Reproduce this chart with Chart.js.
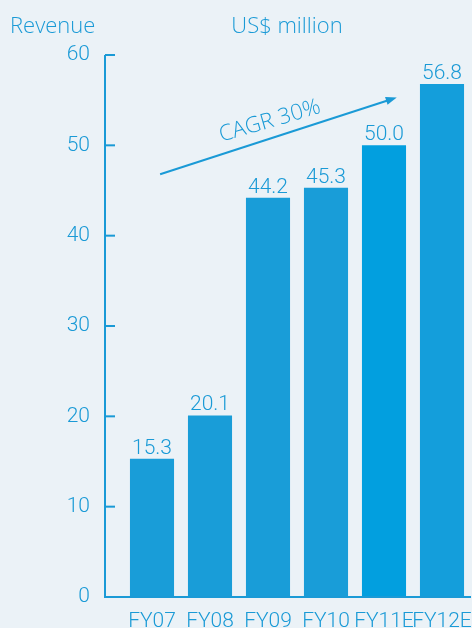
<!DOCTYPE html>
<html>
<head>
<meta charset="utf-8">
<script src="https://cdn.jsdelivr.net/npm/chart.js@4.4.1/dist/chart.umd.min.js"></script>
<style>
  html, body { margin: 0; padding: 0; background: #ebf2f7; }
  #wrap { width: 472px; height: 628px; }
</style>
</head>
<body>
<div id="wrap"><canvas id="revenue" width="472" height="628"></canvas></div>
<script>
const categories = ['FY07', 'FY08', 'FY09', 'FY10', 'FY11E', 'FY12E']
const revenue = [15.3, 20.1, 44.2, 45.3, 50.0, 56.8]
const yTicks = [0, 10, 20, 30, 40, 50, 60]
const barColors = ['#199dd8', '#199dd8', '#199dd8', '#199dd8', '#029fdf', '#149edb']
const cagrText = 'CAGR 30%'
// arrow start / end in data units (category index, revenue)
const cagrFrom = [0.14, 46.8]
const cagrTo = [4.22, 55.3]

const blue = '#1a9ad6'
const textFont = '"Open Sans", sans-serif'
const numFont = 'Roboto, sans-serif'

const axisPlugin = {
  id: 'axisLines',
  afterDraw(chart) {
    const ctx = chart.ctx
    const y = chart.scales.y
    const area = chart.chartArea
    const ax = area.left - 18
    ctx.save()
    ctx.strokeStyle = blue
    ctx.lineWidth = 2
    ctx.beginPath()
    ctx.moveTo(ax, y.getPixelForValue(60))
    ctx.lineTo(ax, y.getPixelForValue(0))
    ctx.lineTo(area.right, y.getPixelForValue(0))
    ctx.stroke()
    yTicks.forEach(v => {
      const py = y.getPixelForValue(v)
      ctx.beginPath()
      ctx.moveTo(ax, py)
      ctx.lineTo(ax + 10, py)
      ctx.stroke()
    })
    ctx.restore()
  }
}

const labelPlugin = {
  id: 'barLabels',
  afterDatasetsDraw(chart) {
    const ctx = chart.ctx
    const meta = chart.getDatasetMeta(0)
    ctx.save()
    ctx.fillStyle = blue
    ctx.font = '300 21px ' + numFont
    ctx.textAlign = 'center'
    ctx.textBaseline = 'alphabetic'
    meta.data.forEach((bar, i) => {
      ctx.fillText(revenue[i].toFixed(1), bar.x, bar.y - 5)
    })

    // titles
    ctx.font = '300 22px ' + textFont
    ctx.textAlign = 'left'
    ctx.fillText('Revenue', 10, 33)
    ctx.textAlign = 'center'
    ctx.fillText('US$ million', 287, 33)

    // CAGR arrow
    const x = chart.scales.x, y = chart.scales.y
    const x1 = x.getPixelForValue(cagrFrom[0]), y1 = y.getPixelForValue(cagrFrom[1])
    const x2 = x.getPixelForValue(cagrTo[0]), y2 = y.getPixelForValue(cagrTo[1])
    const ang = Math.atan2(y2 - y1, x2 - x1)
    ctx.strokeStyle = blue
    ctx.lineWidth = 2
    ctx.beginPath()
    ctx.moveTo(x1, y1)
    ctx.lineTo(x2 - 8 * Math.cos(ang), y2 - 8 * Math.sin(ang))
    ctx.stroke()
    ctx.beginPath()
    ctx.moveTo(x2, y2)
    ctx.lineTo(x2 - 11 * Math.cos(ang) + 4 * Math.sin(ang), y2 - 11 * Math.sin(ang) - 4 * Math.cos(ang))
    ctx.lineTo(x2 - 11 * Math.cos(ang) - 4 * Math.sin(ang), y2 - 11 * Math.sin(ang) + 4 * Math.cos(ang))
    ctx.closePath()
    ctx.fill()

    const mx = (x1 + x2) / 2 - 4, my = (y1 + y2) / 2 + 1
    ctx.translate(mx, my)
    ctx.rotate(ang + 0.03)
    ctx.font = '300 22px ' + textFont
    ctx.textAlign = 'center'
    ctx.fillText(cagrText, 0, -10)
    ctx.restore()
  }
}

new Chart(document.getElementById('revenue'), {
  type: 'bar',
  data: {
    labels: categories,
    datasets: [{
      data: revenue,
      backgroundColor: barColors,
      borderWidth: 0,
      barPercentage: 0.76,
      categoryPercentage: 1
    }]
  },
  options: {
    responsive: false,
    animation: false,
    layout: { padding: { top: 55, right: 1, left: 0, bottom: 0 } },
    plugins: {
      legend: { display: false },
      tooltip: { enabled: false }
    },
    scales: {
      x: {
        grid: { display: false, drawTicks: false },
        border: { display: false },
        ticks: { color: blue, font: { family: numFont, size: 21, weight: '300' }, padding: 12, maxRotation: 0, autoSkip: false },
        afterFit(scale) {
          scale.height = 31
          scale.paddingLeft = 0
          scale.paddingRight = 0
        }
      },
      y: {
        min: 0,
        max: 60,
        grid: { display: false, drawTicks: false },
        border: { display: false },
        ticks: { stepSize: 10, color: blue, font: { family: numFont, size: 21, weight: '300' }, padding: 33 },
        afterFit(scale) {
          scale.width = 123
          scale.paddingTop = 0
          scale.paddingBottom = 0
        }
      }
    }
  },
  plugins: [axisPlugin, labelPlugin]
})
</script>
</body>
</html>
